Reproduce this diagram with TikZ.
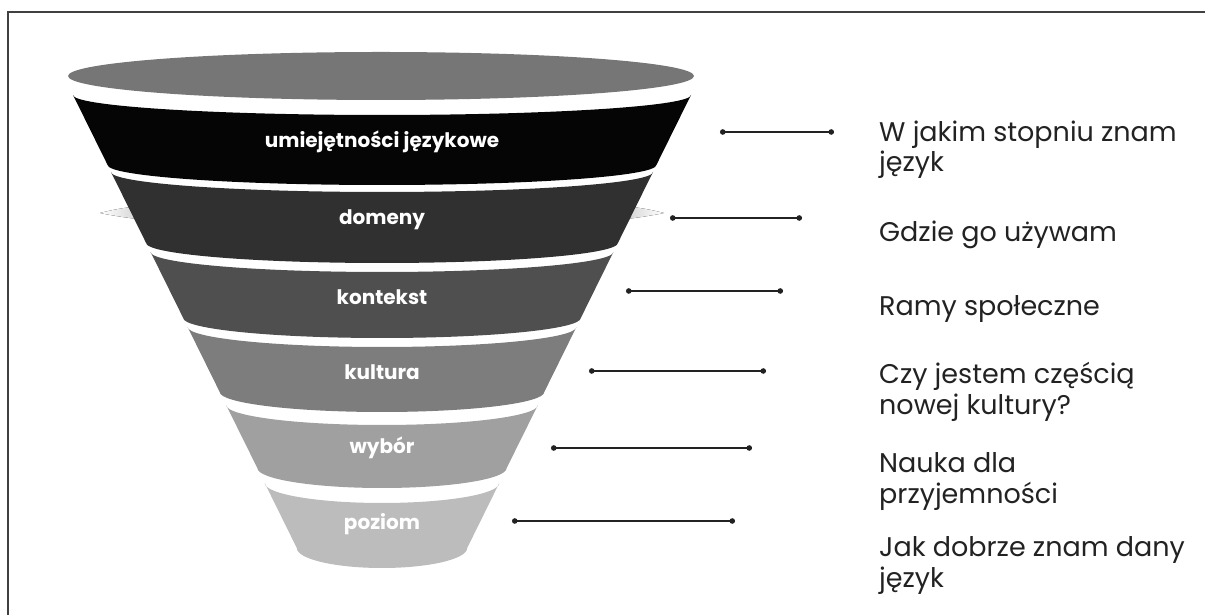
\documentclass[tikz,border=0pt]{standalone}
\usepackage{fontspec}
\setmainfont{Poppins}
\usetikzlibrary{arrows.meta}
\definecolor{topc}{HTML}{767676}
\definecolor{bandA}{HTML}{050505}
\definecolor{bandB}{HTML}{303030}
\definecolor{bandC}{HTML}{4F4F4F}
\definecolor{bandD}{HTML}{7D7D7D}
\definecolor{bandE}{HTML}{A0A0A0}
\definecolor{bandF}{HTML}{BCBCBC}
\definecolor{inkc}{HTML}{222222}
\newcommand\funnelband[5]{%
  \fill[#1] ({382-#3},#2) arc[start angle=180,end angle=360,x radius=#3,y radius=20]
    -- ({382+#5},#4) arc[start angle=0,end angle=-180,x radius=#5,y radius=20] -- cycle;}
\begin{document}
\begin{tikzpicture}[x=1pt,y=1pt,
  lbl/.style={text=white,font=\fontsize{20}{23}\selectfont\bfseries},
  desc/.style={anchor=base west,inner sep=0pt,text=inkc,font=\fontsize{27}{31}\selectfont},
  conn/.style={line width=1.4pt,inkc,{Circle[length=5.5pt]}-{Circle[length=5.5pt]}}]
\useasboundingbox (0,0) rectangle (1205,615);
% frame
\draw[black!75,line width=1.6pt] (8,0) -- (8,603) -- (1205,603);
% shadow wings at the second band
\fill[left color=white,right color=black!22] (100,402) .. controls (120,407) and (135,409) .. (150,409) -- (150,395) .. controls (135,396) and (120,398) .. cycle;
\fill[right color=white,left color=black!22] (664,402) .. controls (644,407) and (629,409) .. (614,409) -- (614,395) .. controls (629,396) and (644,398) .. cycle;
% top ellipse
\fill[topc] (381,539) ellipse[x radius=313,y radius=24];
% bands
\funnelband{bandA}{520}{309}{450}{274.4}
\funnelband{bandB}{443}{271}{372}{235.9}
\funnelband{bandC}{363}{231.4}{297}{198.8}
\funnelband{bandD}{288}{194.4}{223}{162.3}
\funnelband{bandE}{210}{155.9}{147}{124.7}
\funnelband{bandF}{132}{117.3}{67}{85.2}
% band labels
\node[lbl] (l1) at (382,473) {umiejętności językowe};
\node[lbl] (l2) at (382,395) {domeny};
\node[lbl] (l3) at (382,318) {kontekst};
\node[lbl] (l4) at (382,243) {kultura};
\node[lbl] (l5) at (382,167) {wybór};
\node[lbl] (l6) at (382,91) {poziom};
% connectors
\coordinate (c1a) at (720,483); \coordinate (c1b) at (834,483);
\coordinate (c2a) at (670,397); \coordinate (c2b) at (802,397);
\coordinate (c3a) at (626,324); \coordinate (c3b) at (783,324);
\coordinate (c4a) at (589,244); \coordinate (c4b) at (766,244);
\coordinate (c5a) at (551,167); \coordinate (c5b) at (752,167);
\coordinate (c6a) at (512,94);  \coordinate (c6b) at (735,94);
\draw[conn] (c1a) -- (c1b);
\draw[conn] (c2a) -- (c2b);
\draw[conn] (c3a) -- (c3b);
\draw[conn] (c4a) -- (c4b);
\draw[conn] (c5a) -- (c5b);
\draw[conn] (c6a) -- (c6b);
% descriptions
\node[desc] (d1a) at (879,473) {W jakim stopniu znam};
\node[desc] (d1b) at (879,443) {język};
\node[desc] (d2)  at (879,373) {Gdzie go używam};
\node[desc] (d3)  at (879,299) {Ramy społeczne};
\node[desc] (d4a) at (879,231) {Czy jestem częścią};
\node[desc] (d4b) at (879,200) {nowej kultury?};
\node[desc] (d5a) at (879,142) {Nauka dla};
\node[desc] (d5b) at (879,111) {przyjemności};
\node[desc] (d6a) at (879,58)  {Jak dobrze znam dany};
\node[desc] (d6b) at (879,27)  {język};
\end{tikzpicture}
\end{document}
